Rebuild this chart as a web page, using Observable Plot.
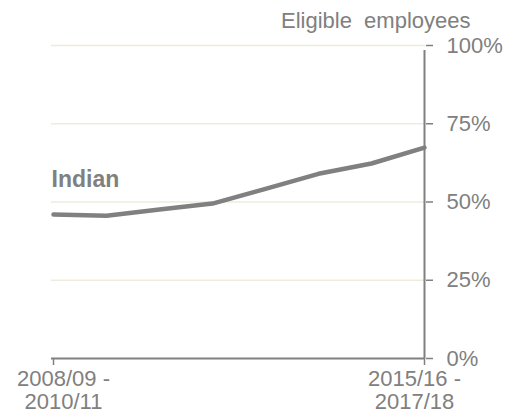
<!DOCTYPE html>
<html>
<head>
<meta charset="utf-8">
<script src="https://cdn.jsdelivr.net/npm/d3@7"></script>
<script src="https://cdn.jsdelivr.net/npm/@observablehq/plot@0.6"></script>
<style>
  html, body { margin: 0; padding: 0; background: #fff; }
  #chart svg { display: block; }
</style>
</head>
<body>
<div id="chart"></div>
<script>
const periods = [
  "2008/09 - 2010/11", "2009/10 - 2011/12", "2010/11 - 2012/13", "2011/12 - 2013/14",
  "2012/13 - 2014/15", "2013/14 - 2015/16", "2014/15 - 2016/17", "2015/16 - 2017/18"
];
const indianValues = [46, 45.6, 47.6, 49.5, 54.2, 59, 62.3, 67.4];
const yTicks = [0, 25, 50, 75, 100];
const seriesName = "Indian";
const yTitle = "Eligible\u00a0 employees";

const data = periods.map((p, i) => ({period: p, value: indianValues[i]}));
const first = periods[0], last = periods[periods.length - 1];
const grey = "#808080";
const fmt = p => p.replace(" - ", " -\n");

const chart = Plot.plot({
  width: 508,
  height: 417,
  marginTop: 45,
  marginBottom: 59,
  marginLeft: 51,
  marginRight: 83,
  style: {fontFamily: "'Liberation Sans', Arial, sans-serif", fontSize: "22px", color: grey, background: "#fff"},
  x: {type: "point", domain: periods, padding: 0},
  y: {domain: [0, 100]},
  marks: [
    Plot.ruleY(yTicks.filter(d => d > 0), {stroke: "#efebdc", strokeWidth: 1.5}),
    Plot.axisY({anchor: "right", ticks: yTicks, tickFormat: d => d + "%", tickSize: 7, tickPadding: 14, stroke: grey, strokeWidth: 1.5, fill: grey, fontSize: 22, label: null}),
    Plot.axisX({ticks: [first, last], tickSize: 7, tickFormat: () => "", stroke: grey, strokeWidth: 1.5, label: null}),
    Plot.ruleY([0], {stroke: grey, strokeWidth: 2}),
    Plot.ruleX([last], {y1: 0, y2: 100, stroke: grey, strokeWidth: 2, insetBottom: -5}),
    Plot.line(data, {x: "period", y: "value", stroke: grey, strokeWidth: 4.5}),
    Plot.text([first], {x: d => d, y: 0, text: fmt, dx: 10, dy: 11, lineAnchor: "top", lineHeight: 1.06, fill: grey, fontSize: 22}),
    Plot.text([last], {x: d => d, y: 0, text: fmt, dx: -10, dy: 11, lineAnchor: "top", lineHeight: 1.06, fill: grey, fontSize: 22}),
    Plot.text([seriesName], {x: () => first, y: () => 57, text: d => d, textAnchor: "start", dx: -2, fill: grey, fontWeight: "bold", fontSize: 23}),
    Plot.text([yTitle], {frameAnchor: "top-right", text: d => d, textAnchor: "end", lineAnchor: "middle", dx: 45, dy: -25, fill: grey, fontSize: 22})
  ]
});
document.getElementById("chart").append(chart);
</script>
</body>
</html>
